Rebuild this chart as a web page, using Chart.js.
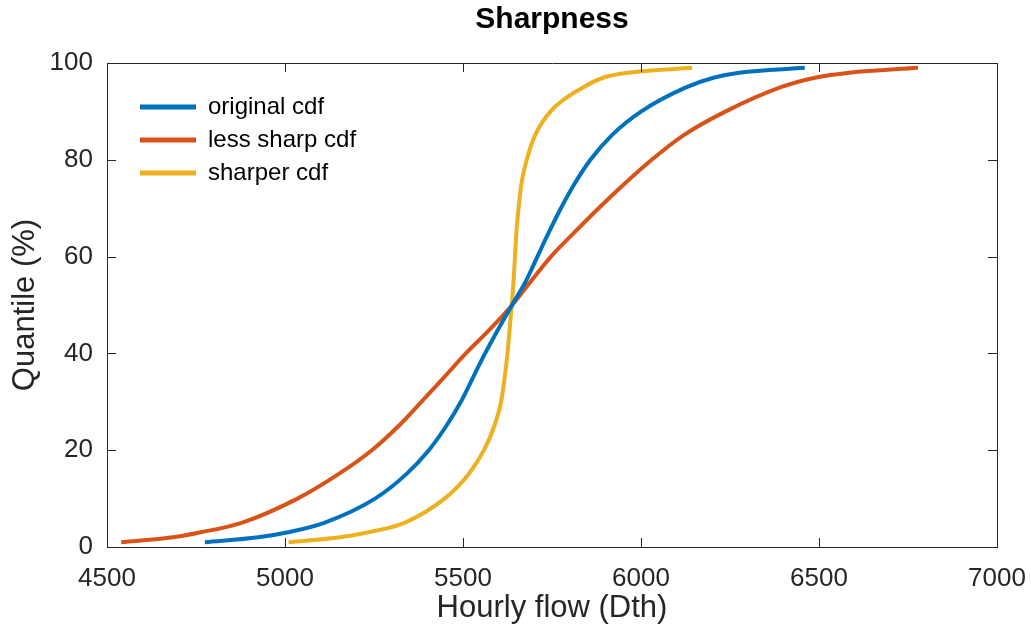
<!DOCTYPE html>
<html>
<head>
<meta charset="utf-8">
<script src="https://cdn.jsdelivr.net/npm/chart.js@4.4.1/dist/chart.umd.min.js"></script>
<style>
  html, body { margin: 0; padding: 0; background: #fff; }
  #wrap { width: 1031px; height: 633px; }
</style>
</head>
<body>
<div id="wrap"><canvas id="cdfChart" width="1031" height="633"></canvas></div>
<script>
// quantile levels (%) and the hourly flow
const quantiles = [1, 2, 3, 5, 10, 15, 20, 25, 30, 35, 40, 45, 50, 55, 60, 65, 70, 75, 80, 85, 90, 95, 97, 98, 99];
const originalFlow = [4775, 4925, 5005, 5110, 5253, 5340, 5404, 5453, 5494, 5528, 5562, 5599, 5638, 5677, 5709, 5741, 5775, 5813, 5858, 5917, 6001, 6128, 6206, 6276, 6460];
const lessSharpFlow = [4540, 4685, 4760, 4878, 5035, 5149, 5244, 5319, 5383, 5446, 5508, 5576, 5638, 5692, 5747, 5813, 5881, 5953, 6030, 6118, 6238, 6393, 6492, 6585, 6778];
const sharperFlow = [5010, 5155, 5231, 5335, 5448, 5515, 5559, 5588, 5607, 5617, 5625, 5631, 5637, 5642, 5646, 5650, 5656, 5664, 5679, 5702, 5746, 5838, 5895, 5965, 6143];
const seriesNames = ['original cdf', 'less sharp cdf', 'sharper cdf'];
const xTicks = [4500, 5000, 5500, 6000, 6500, 7000];
const yTicks = [0, 20, 40, 60, 80, 100];

const FONT = "'Liberation Sans', Arial, Helvetica, sans-serif";
const AXIS_COLOR = '#262626';

const toPoints = flow => flow.map((v, i) => ({ x: v, y: quantiles[i] }));

// MATLAB style box with inward ticks on all four sides
const frameTicks = {
    id: 'frameTicks',
    afterDatasetsDraw(chart) {
        const { ctx, chartArea: a, scales: { x, y } } = chart;
        const len = 9;
        ctx.save();
        ctx.strokeStyle = AXIS_COLOR;
        ctx.lineWidth = 1;
        ctx.beginPath();
        ctx.rect(Math.round(a.left) + 0.5, Math.round(a.top) + 0.5, Math.round(a.width), Math.round(a.height));
        xTicks.forEach(t => {
            const px = Math.round(x.getPixelForValue(t)) + 0.5;
            ctx.moveTo(px, a.bottom); ctx.lineTo(px, a.bottom - len);
            ctx.moveTo(px, a.top); ctx.lineTo(px, a.top + len);
        });
        yTicks.forEach(t => {
            const py = Math.round(y.getPixelForValue(t)) + 0.5;
            ctx.moveTo(a.left, py); ctx.lineTo(a.left + len, py);
            ctx.moveTo(a.right, py); ctx.lineTo(a.right - len, py);
        });
        ctx.stroke();
        ctx.restore();
    }
};

// legend inside the axes, title centred over the axes
const placeBoxes = {
    id: 'placeBoxes',
    afterLayout(chart) {
        const area = chart.chartArea;
        const lg = chart.legend;
        if (lg) {
            const h = lg.bottom - lg.top;
            lg.left = area.left + 24;
            lg.top = area.top + 23;
            lg.bottom = lg.top + h;
        }
        const tb = chart.titleBlock;
        if (tb) {
            tb.left = area.left;
            tb.right = area.right;
            tb.width = area.right - area.left;
        }
    }
};

const plainTick = v => String(v);

const ctx = document.getElementById('cdfChart').getContext('2d');
new Chart(ctx, {
    type: 'scatter',
    data: {
        datasets: [
            { label: seriesNames[0], data: toPoints(originalFlow), borderColor: '#0072BD', backgroundColor: '#0072BD' },
            { label: seriesNames[1], data: toPoints(lessSharpFlow), borderColor: '#D95319', backgroundColor: '#D95319' },
            { label: seriesNames[2], data: toPoints(sharperFlow), borderColor: '#EDB120', backgroundColor: '#EDB120' }
        ].map(d => Object.assign(d, {
            showLine: true,
            borderWidth: 4,
            pointRadius: 0,
            cubicInterpolationMode: 'monotone',
            borderCapStyle: 'butt'
        }))
    },
    options: {
        responsive: false,
        animation: false,
        layout: { padding: { left: 6.4, right: 34, top: 0, bottom: 6.4 } },
        plugins: {
            title: {
                display: true,
                text: 'Sharpness',
                color: '#000',
                font: { family: FONT, size: 30, weight: 'bold' },
                padding: { top: 1.5, bottom: 25.5 }
            },
            legend: {
                position: 'chartArea',
                align: 'start',
                labels: {
                    font: { family: FONT, size: 24 },
                    color: '#000',
                    boxWidth: 56,
                    boxHeight: 5,
                    padding: 9,
                    generateLabels(chart) {
                        return Chart.defaults.plugins.legend.labels.generateLabels(chart)
                            .map(item => Object.assign(item, { lineWidth: 0, fillStyle: item.strokeStyle }));
                    }
                }
            },
            tooltip: { enabled: false }
        },
        scales: {
            x: {
                type: 'linear',
                min: 4500,
                max: 7000,
                afterBuildTicks: s => { s.ticks = xTicks.map(v => ({ value: v })); },
                afterFit: s => { s.height = 79.6; s.paddingLeft = 0; s.paddingRight = 0; },
                grid: { drawOnChartArea: false, drawTicks: false },
                border: { color: AXIS_COLOR },
                ticks: { color: AXIS_COLOR, font: { family: FONT, size: 26 }, padding: 16, maxRotation: 0, callback: plainTick },
                title: {
                    display: true,
                    text: 'Hourly flow (Dth)',
                    color: AXIS_COLOR,
                    font: { family: FONT, size: 31 },
                    padding: 0
                }
            },
            y: {
                type: 'linear',
                min: 0,
                max: 100,
                afterBuildTicks: s => { s.ticks = yTicks.map(v => ({ value: v })); },
                afterFit: s => { s.width = 100.6; s.paddingTop = 0; s.paddingBottom = 0; },
                grid: { drawOnChartArea: false, drawTicks: false },
                border: { color: AXIS_COLOR },
                ticks: { color: AXIS_COLOR, font: { family: FONT, size: 26 }, padding: 14, callback: plainTick },
                title: {
                    display: true,
                    text: 'Quantile (%)',
                    color: AXIS_COLOR,
                    font: { family: FONT, size: 31 },
                    padding: 0
                }
            }
        }
    },
    plugins: [frameTicks, placeBoxes]
});
</script>
</body>
</html>
